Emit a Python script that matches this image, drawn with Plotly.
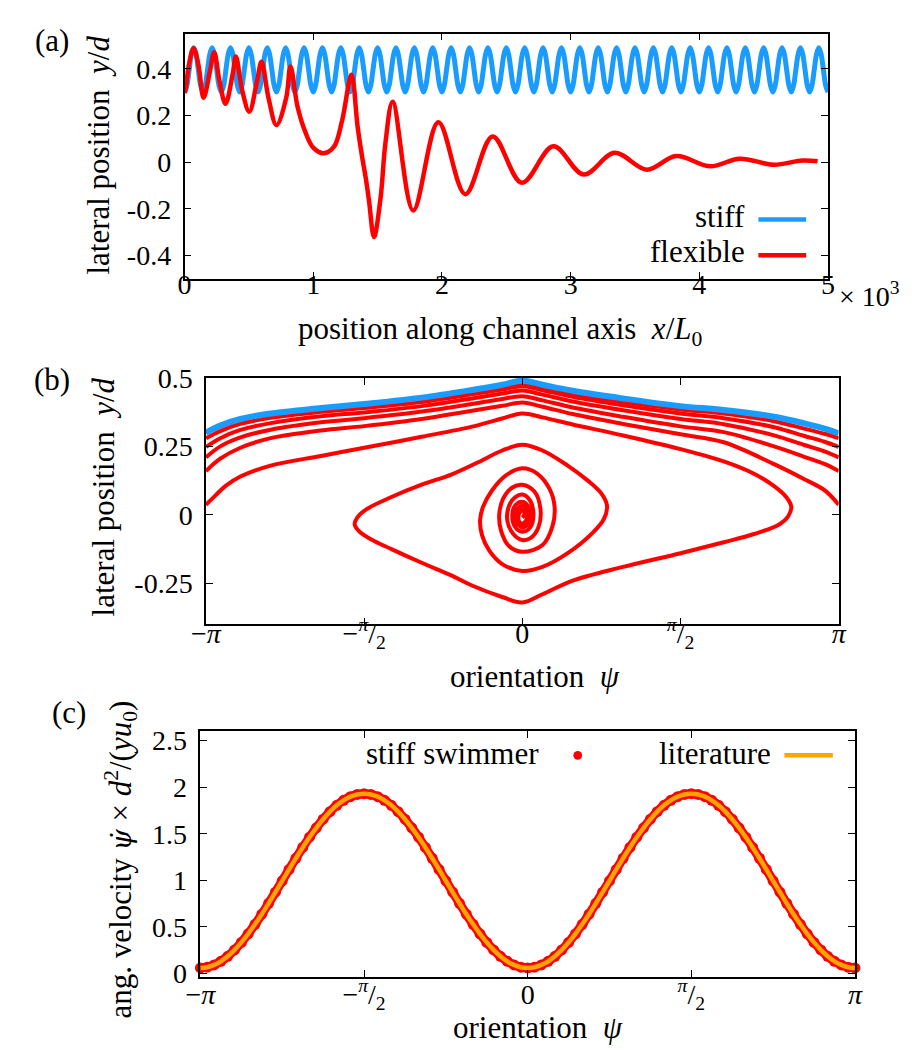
import math
import plotly.graph_objects as go

W, H = 918, 1048
FONT = "Liberation Serif"
BLUE = "#1a9cff"
RED = "#ff0000"
ORANGE = "#ffa500"
PI = math.pi

# ---------------- panel (a): lateral position vs channel axis ----------------
# stiff swimmer: one measured period of the periodic orbit (phase fraction, y/d)
stiff_period_phase = [0.0, 0.125, 0.25, 0.375, 0.5, 0.625, 0.75, 0.875]
stiff_period_y = [0.300, 0.328, 0.395, 0.462, 0.490, 0.462, 0.395, 0.328]
stiff_n_periods = 35
stiff_x_end = 5.0  # x/L0 in units of 10^3

# flexible swimmer (x/L0 in 10^3, y/d)
flex_x = [0.000, 0.008, 0.033, 0.070, 0.108, 0.148, 0.197, 0.230, 0.272, 0.318,
          0.373, 0.399, 0.449, 0.503, 0.563, 0.598, 0.652, 0.714, 0.790, 0.823,
          0.879, 0.942, 1.000, 1.080, 1.160, 1.225, 1.297, 1.345, 1.383,
          1.409, 1.434, 1.472, 1.523, 1.561, 1.617, 1.777,
          1.972, 2.182, 2.394, 2.621, 2.866, 3.101,
          3.341, 3.593, 3.820, 4.086, 4.313, 4.578, 4.800, 4.919]
flex_y = [0.297, 0.310, 0.415, 0.488, 0.415, 0.276, 0.388, 0.471, 0.346, 0.250,
          0.374, 0.452, 0.304, 0.216, 0.346, 0.430, 0.276, 0.159, 0.276, 0.410,
          0.235, 0.124, 0.062, 0.038, 0.065, 0.180, 0.374, 0.151, 0.012,
          -0.071, -0.168, -0.321, -0.154, 0.082, 0.259, -0.207,
          0.171, -0.137, 0.110, -0.088, 0.068, -0.053,
          0.040, -0.032, 0.026, -0.018, 0.015, -0.011, 0.007, 0.004]

# ---------------- panel (b): phase portrait y/d vs psi ----------------
psi_grid = [-3.1416, -3.0, -2.8, -2.5, -2.0, -1.5708, -1.0, -0.5, -0.2, 0.0,
            0.2, 0.5, 1.0, 1.5708, 2.0, 2.5, 2.8, 3.0, 3.1416]
stiff_orbit_y = [0.300, 0.326, 0.350, 0.370, 0.390, 0.405, 0.428, 0.456, 0.475, 0.490,
                 0.475, 0.453, 0.425, 0.397, 0.383, 0.358, 0.334, 0.315, 0.298]
flex_pass1_y = [0.300, 0.322, 0.346, 0.365, 0.386, 0.400, 0.423, 0.451, 0.469, 0.481,
                0.466, 0.443, 0.413, 0.385, 0.370, 0.342, 0.315, 0.296, 0.280]
flex_pass2_y = [0.280, 0.306, 0.332, 0.354, 0.376, 0.390, 0.412, 0.440, 0.458, 0.470,
                0.455, 0.431, 0.400, 0.370, 0.353, 0.320, 0.288, 0.267, 0.248]
flex_pass3_y = [0.248, 0.280, 0.310, 0.335, 0.360, 0.374, 0.397, 0.425, 0.443, 0.454,
                0.439, 0.414, 0.382, 0.350, 0.331, 0.290, 0.255, 0.232, 0.210]
flex_pass4_y = [0.210, 0.250, 0.283, 0.311, 0.338, 0.353, 0.377, 0.405, 0.423, 0.433,
                0.418, 0.392, 0.358, 0.323, 0.302, 0.250, 0.212, 0.186, 0.160]
flex_pass5_y = [0.160, 0.205, 0.245, 0.280, 0.308, 0.324, 0.350, 0.380, 0.398, 0.410,
                0.395, 0.368, 0.332, 0.294, 0.265, 0.185, 0.130, 0.090, 0.037]

# last pass and inward spiral towards the centreline
flex_spiral_psi = [-3.1416, -3.05, -2.95, -2.8, -2.5, -2.0, -1.5708, -1.0, -0.5, -0.2,
                   0.0, 0.2, 0.5, 1.0, 1.5708, 2.0, 2.3, 2.5, 2.62, 2.67,
                   2.64, 2.55, 2.3, 2.0, 1.5708, 1.0, 0.5, 0.2, 0.0, -0.2,
                   -0.5, -0.7, -1.0, -1.3, -1.5, -1.62, -1.665, -1.64, -1.55, -1.3,
                   -1.0, -0.7, -0.45, -0.2, 0.0, 0.2, 0.45, 0.65, 0.78, 0.84,
                   0.81, 0.7, 0.45, 0.2, 0.0, -0.2, -0.33, -0.40, -0.42, -0.39,
                   -0.3, -0.16, 0.0, 0.15, 0.27, 0.32, 0.30, 0.2, 0.0, -0.13,
                   -0.21, -0.23, -0.19, -0.1, 0.0, 0.12, 0.18, 0.16, 0.08, 0.0,
                   -0.09, -0.15, -0.13, -0.07, 0.0, 0.08, 0.11, 0.08, 0.0, -0.07,
                   -0.10, -0.07, 0.0, 0.06, 0.08, 0.05, 0.0, -0.05, -0.07, -0.04,
                   0.0, 0.04, 0.05, 0.02, -0.02, -0.04, -0.02, 0.01, 0.02, 0.0]
flex_spiral_y = [0.037, 0.070, 0.105, 0.140, 0.180, 0.215, 0.245, 0.285, 0.322, 0.352,
                 0.370, 0.356, 0.330, 0.290, 0.240, 0.195, 0.150, 0.105, 0.065, 0.030,
                 -0.005, -0.035, -0.070, -0.100, -0.140, -0.190, -0.240, -0.290, -0.320, -0.300,
                 -0.258, -0.222, -0.175, -0.125, -0.090, -0.060, -0.035, -0.010, 0.020, 0.065,
                 0.110, 0.148, 0.190, 0.235, 0.256, 0.235, 0.180, 0.125, 0.080, 0.035,
                 -0.015, -0.065, -0.140, -0.190, -0.205, -0.180, -0.130, -0.075, -0.020, 0.030,
                 0.090, 0.145, 0.170, 0.150, 0.095, 0.030, -0.040, -0.110, -0.135, -0.115,
                 -0.060, 0.000, 0.060, 0.100, 0.110, 0.085, 0.020, -0.045, -0.085, -0.092,
                 -0.070, -0.020, 0.035, 0.065, 0.074, 0.050, 0.000, -0.045, -0.062, -0.045,
                 0.000, 0.035, 0.048, 0.030, -0.005, -0.035, -0.046, -0.030, 0.000, 0.025,
                 0.033, 0.020, -0.005, -0.028, -0.030, -0.010, 0.012, 0.018, 0.002, -0.010]

# ---------------- panel (c): angular velocity vs psi ----------------
ang_psi_deg = [-180.0, -176.25, -172.5, -168.75, -165.0, -161.25, -157.5, -153.75, -150.0, -146.25,
               -142.5, -138.75, -135.0, -131.25, -127.5, -123.75, -120.0, -116.25, -112.5, -108.75,
               -105.0, -101.25, -97.5, -93.75, -90.0, -86.25, -82.5, -78.75, -75.0, -71.25,
               -67.5, -63.75, -60.0, -56.25, -52.5, -48.75, -45.0, -41.25, -37.5, -33.75,
               -30.0, -26.25, -22.5, -18.75, -15.0, -11.25, -7.5, -3.75, 0.0, 3.75,
               7.5, 11.25, 15.0, 18.75, 22.5, 26.25, 30.0, 33.75, 37.5, 41.25,
               45.0, 48.75, 52.5, 56.25, 60.0, 63.75, 67.5, 71.25, 75.0, 78.75,
               82.5, 86.25, 90.0, 93.75, 97.5, 101.25, 105.0, 108.75, 112.5, 116.25,
               120.0, 123.75, 127.5, 131.25, 135.0, 138.75, 142.5, 146.25, 150.0, 153.75,
               157.5, 161.25, 165.0, 168.75, 172.5, 176.25, 180.0]
ang_vel = [0.060, 0.068, 0.092, 0.131, 0.185, 0.253, 0.334, 0.426, 0.528, 0.637,
           0.753, 0.873, 0.995, 1.117, 1.237, 1.353, 1.463, 1.564, 1.656, 1.737,
           1.805, 1.859, 1.898, 1.922, 1.930, 1.922, 1.898, 1.859, 1.805, 1.737,
           1.656, 1.564, 1.463, 1.353, 1.237, 1.117, 0.995, 0.873, 0.753, 0.637,
           0.528, 0.426, 0.334, 0.253, 0.185, 0.131, 0.092, 0.068, 0.060, 0.068,
           0.092, 0.131, 0.185, 0.253, 0.334, 0.426, 0.528, 0.637, 0.753, 0.873,
           0.995, 1.117, 1.237, 1.353, 1.463, 1.564, 1.656, 1.737, 1.805, 1.859,
           1.898, 1.922, 1.930, 1.922, 1.898, 1.859, 1.805, 1.737, 1.656, 1.564,
           1.463, 1.353, 1.237, 1.117, 0.995, 0.873, 0.753, 0.637, 0.528, 0.426,
           0.334, 0.253, 0.185, 0.131, 0.092, 0.068, 0.060]

psi_tickvals = [-PI, -PI / 2, 0, PI / 2, PI]
psi_ticktext = ["\u2212<i>\u03c0</i>", "\u2212<sup><i>\u03c0</i></sup>/<sub>2</sub>", "0",
                "<sup><i>\u03c0</i></sup>/<sub>2</sub>", "<i>\u03c0</i>"]

# ---------------- build figure ----------------
fig = go.Figure()

# (a) stiff: tile the measured period
period = stiff_x_end / stiff_n_periods
sx, sy = [], []
for k in range(stiff_n_periods):
    for ph, yv in zip(stiff_period_phase, stiff_period_y):
        sx.append((k + ph) * period)
        sy.append(yv)
sx.append(stiff_x_end)
sy.append(stiff_period_y[0])

fig.add_trace(go.Scatter(x=sx, y=sy, mode="lines", line=dict(color=BLUE, width=5, shape="spline"),
                         xaxis="x", yaxis="y", showlegend=False))
fig.add_trace(go.Scatter(x=flex_x, y=flex_y, mode="lines", line=dict(color=RED, width=4.5, shape="spline"),
                         xaxis="x", yaxis="y", showlegend=False))

# (b)
for ys in [flex_pass1_y, flex_pass2_y, flex_pass3_y, flex_pass4_y, flex_pass5_y]:
    fig.add_trace(go.Scatter(x=psi_grid, y=ys, mode="lines", line=dict(color=RED, width=4, shape="spline"),
                             xaxis="x2", yaxis="y2", showlegend=False))
fig.add_trace(go.Scatter(x=flex_spiral_psi, y=flex_spiral_y, mode="lines",
                         line=dict(color=RED, width=4, shape="spline"),
                         xaxis="x2", yaxis="y2", showlegend=False))
fig.add_trace(go.Scatter(x=psi_grid, y=stiff_orbit_y, mode="lines", line=dict(color=BLUE, width=6, shape="spline"),
                         xaxis="x2", yaxis="y2", showlegend=False))

# (c)
ang_psi = [d * PI / 180 for d in ang_psi_deg]
fig.add_trace(go.Scatter(x=ang_psi, y=ang_vel, mode="lines+markers",
                         line=dict(color=RED, width=9, shape="spline"),
                         marker=dict(color=RED, size=11), cliponaxis=False,
                         xaxis="x3", yaxis="y3", showlegend=False))
fig.add_trace(go.Scatter(x=ang_psi, y=ang_vel, mode="lines", line=dict(color=ORANGE, width=4.5, shape="spline"),
                         xaxis="x3", yaxis="y3", showlegend=False))


def px_x(p):
    return p / W


def px_y(p):
    return 1 - p / H


TICK_SIZE = 28
TITLE_SIZE = 31
axis_common = dict(showline=True, linewidth=1.5, linecolor="black", mirror="allticks",
                   ticks="inside", ticklen=7, tickwidth=1.2, tickcolor="black",
                   showgrid=False, zeroline=False,
                   tickfont=dict(family=FONT, size=TICK_SIZE, color="black"))

fig.update_layout(
    width=W, height=H, margin=dict(l=0, r=0, t=0, b=0),
    paper_bgcolor="white", plot_bgcolor="white",
    font=dict(family=FONT, size=TICK_SIZE, color="black"),
    xaxis=dict(domain=[px_x(165.7), px_x(825.7)], range=[0, 5], anchor="y", ticklabelstandoff=-20,
               tickvals=[0, 1, 2, 3, 4, 5], ticktext=["0", "1", "2", "3", "4", "5"], **axis_common),
    yaxis=dict(domain=[px_y(262.7), px_y(11)], range=[-0.5, 0.55], anchor="x", ticklabelstandoff=6,
               tickvals=[-0.4, -0.2, 0, 0.2, 0.4], ticktext=["-0.4", "-0.2", "0", "0.2", "0.4"], **axis_common),
    xaxis2=dict(domain=[px_x(187.7), px_x(836.7)], range=[-PI, PI], anchor="y2", ticklabelstandoff=-17,
                tickvals=psi_tickvals, ticktext=psi_ticktext, **axis_common),
    yaxis2=dict(domain=[px_y(617.3), px_y(364.3)], range=[-0.4, 0.5], anchor="x2", ticklabelstandoff=6,
                tickvals=[-0.25, 0, 0.25, 0.5], ticktext=["-0.25", "0", "0.25", "0.5"], **axis_common),
    xaxis3=dict(domain=[px_x(182), px_x(853.3)], range=[-PI, PI], anchor="y3", ticklabelstandoff=-8,
                tickvals=psi_tickvals, ticktext=psi_ticktext, **axis_common),
    yaxis3=dict(domain=[px_y(979), px_y(727)], range=[-0.035, 2.6], anchor="x3", ticklabelstandoff=6,
                tickvals=[0, 0.5, 1, 1.5, 2, 2.5], ticktext=["0", "0.5", "1", "1.5", "2", "2.5"], **axis_common),
)

anns = []


def ann(text, x, y, xanchor="center", angle=0, size=TITLE_SIZE):
    anns.append(dict(text=text, x=px_x(x), y=px_y(y), xref="paper", yref="paper",
                     xanchor=xanchor, yanchor="middle", showarrow=False, textangle=angle,
                     font=dict(family=FONT, size=size, color="black")))


PSIDOT = "<span style='font-family:DejaVu Serif;font-size:27px'><i>\u03c8\u0307</i></span>"
ann("(a)", 30, 18)
ann("(b)", 30, 366)
ann("(c)", 47, 708)
ann("lateral position  <i>y</i>/<i>d</i>", 77, 136, angle=-90)
ann("position along channel axis  <i>x</i>/<i>L</i><sub>0</sub>", 490, 316)
ann("\u00d7 10<sup>3</sup>", 835, 279, xanchor="left", size=TICK_SIZE)
ann("lateral position  <i>y</i>/<i>d</i>", 83, 486, angle=-90)
ann("orientation  <i>\u03c8</i>", 525, 671)
ann("ang. velocity " + PSIDOT + " \u00d7 <i>d</i><sup>2</sup>/(<i>yu</i><sub>0</sub>)", 100, 858, angle=-90)
ann("orientation  <i>\u03c8</i>", 528, 1031)
# legends
ann("stiff", 742.7, 199, xanchor="right")
ann("flexible", 742.7, 235, xanchor="right")
ann("stiff swimmer", 531.7, 750, xanchor="right")
ann("literature", 769.3, 750, xanchor="right")
fig.update_layout(annotations=anns)

shapes = [
    dict(type="line", xref="paper", yref="paper", x0=px_x(754.3), x1=px_x(803.3),
         y0=px_y(201.7), y1=px_y(201.7), line=dict(color=BLUE, width=4.5)),
    dict(type="line", xref="paper", yref="paper", x0=px_x(754.3), x1=px_x(803.3),
         y0=px_y(238.3), y1=px_y(238.3), line=dict(color=RED, width=4.5)),
    dict(type="circle", xref="paper", yref="paper", x0=px_x(564.5), x1=px_x(573.5),
         y0=px_y(756.2), y1=px_y(747.2), line=dict(color=RED, width=0), fillcolor=RED),
    dict(type="line", xref="paper", yref="paper", x0=px_x(781), x1=px_x(830.7),
         y0=px_y(751.7), y1=px_y(751.7), line=dict(color=ORANGE, width=4.5)),
]
fig.update_layout(shapes=shapes)

fig.write_html("out.html")
